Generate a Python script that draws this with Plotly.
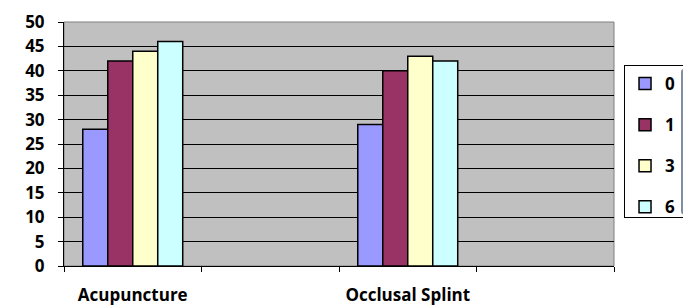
import plotly.graph_objects as go

categories = ["Acupuncture", " ", "Occlusal Splint", "  "]
series_names = ["0", "1", "3", "6"]
values_0 = [28, None, 29, None]
values_1 = [42, None, 40, None]
values_3 = [44, None, 43, None]
values_6 = [46, None, 42, None]
colors = ["#9999FF", "#993366", "#FFFFCC", "#CCFFFF"]

all_values = [values_0, values_1, values_3, values_6]

fig = go.Figure()
for name, vals, col in zip(series_names, all_values, colors):
    fig.add_trace(go.Bar(
        x=categories, y=vals, name=name, legendgroup=name,
        marker=dict(color=col, line=dict(color="black", width=1.5)),
    ))

font = dict(family="Open Sans, sans-serif", size=17, color="black", weight=700)

fig.update_layout(
    width=691, height=306,
    margin=dict(l=56, r=85, t=14, b=48),
    paper_bgcolor="white",
    plot_bgcolor="#C0C0C0",
    barmode="group",
    bargap=0.273,
    bargroupgap=0,
    font=font,
    showlegend=True,
    legend=dict(
        xref="container", yref="container",
        x=0.8915, y=0.8137, xanchor="left", yanchor="top",
        bgcolor="white", bordercolor="black", borderwidth=1,
        tracegroupgap=16, traceorder="grouped",
        font=font, itemwidth=30,
    ),
    xaxis=dict(
        type="category", tickson="boundaries", ticks="outside", ticklen=5,
        tickcolor="black", showline=True, linecolor="black", linewidth=1,
        showgrid=False, tickfont=font, mirror=False, ticklabelstandoff=14,
        automargin=False, tickangle=0,
    ),
    yaxis=dict(
        range=[0, 50], dtick=5, ticks="outside", ticklen=5, tickcolor="black",
        showline=True, linecolor="black", linewidth=1,
        showgrid=True, gridcolor="black", gridwidth=1,
        tickfont=font, zeroline=False, ticklabelstandoff=10, automargin=False,
    ),
)

fig.add_shape(type="rect", xref="paper", yref="paper", x0=0, x1=1, y0=0, y1=1,
              line=dict(color="#808080", width=1), layer="below")

fig.write_html("out.html")
